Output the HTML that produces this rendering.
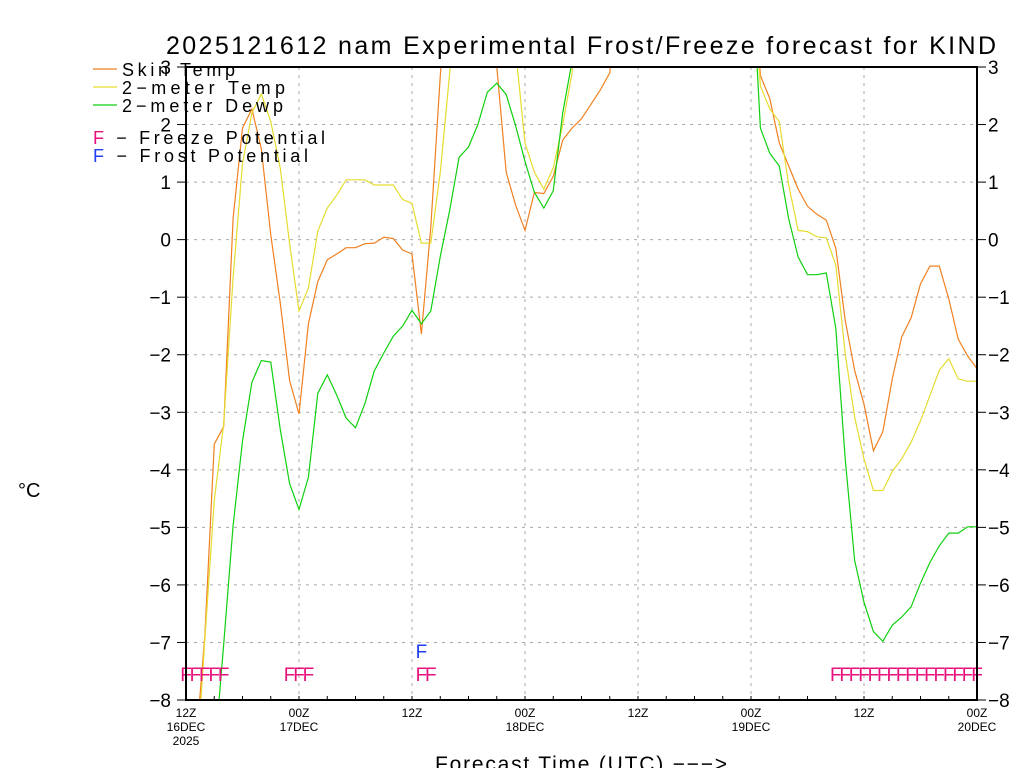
<!DOCTYPE html>
<html><head><meta charset="utf-8"><style>
html,body{margin:0;background:#fff;width:1024px;height:768px;overflow:hidden;}
svg{display:block;font-family:"Liberation Sans","DejaVu Sans",sans-serif;}
</style></head><body>
<svg id="chart" width="1024" height="768" viewBox="0 0 1024 768" overflow="hidden">
<defs><clipPath id="pc"><rect x="186" y="67" width="791" height="633"/></clipPath></defs>
<text x="166" y="54" font-size="25" textLength="830" lengthAdjust="spacing" fill="#000">2025121612 nam Experimental Frost/Freeze forecast for KIND</text>
<g id="grid"></g>
<g id="series" clip-path="url(#pc)"></g>
<g id="marks"></g>
<g id="axes"></g>
<g font-size="18">
<line x1="93" y1="69" x2="117" y2="69" stroke="#f08020" stroke-width="1.2"/>
<text x="122" y="76" textLength="113" lengthAdjust="spacing">Skin Temp</text>
<line x1="93" y1="87" x2="117" y2="87" stroke="#e6dc30" stroke-width="1.2"/>
<text x="122" y="94" textLength="163" lengthAdjust="spacing">2−meter Temp</text>
<line x1="93" y1="105" x2="117" y2="105" stroke="#10d010" stroke-width="1.2"/>
<text x="122" y="112" textLength="161" lengthAdjust="spacing">2−meter Dewp</text>
<text x="93" y="144" textLength="232" lengthAdjust="spacing"><tspan fill="#e8107c">F</tspan> −  Freeze Potential</text>
<text x="93" y="162" textLength="215" lengthAdjust="spacing"><tspan fill="#2040f0">F</tspan> −  Frost Potential</text>
</g>
<text x="18" y="497" font-size="20">°C</text>
<text x="435" y="771" font-size="21" textLength="292" lengthAdjust="spacing">Forecast Time (UTC) −−−&gt;</text>
</svg>
<script>
const hours = Array.from({length:85},(_,i)=>i);
const skinTemp = [-11,-8.9,-6.9,-3.55,-3.25,0.37,1.94,2.27,1.58,0.08,-1.09,-2.45,-3.03,-1.46,-0.73,-0.35,-0.25,-0.14,-0.14,-0.07,-0.06,0.04,0.02,-0.18,-0.25,-1.64,0.22,2.85,5,5,5,5,5,3.0,1.17,0.6,0.16,0.82,0.8,1.1,1.73,1.94,2.1,2.35,2.6,2.9,5,5,5,5,5,5,5,5,5,5,5,5,5,5,5,2.85,2.45,1.68,1.28,0.88,0.58,0.44,0.34,-0.15,-1.4,-2.27,-2.86,-3.67,-3.34,-2.42,-1.69,-1.36,-0.77,-0.46,-0.46,-1.03,-1.73,-2.02,-2.24];
const twoMTemp = [-12,-9.5,-6.96,-4.53,-3.2,-0.66,1.32,2.2,2.53,2.05,1.25,-0.07,-1.24,-0.84,0.15,0.55,0.77,1.04,1.04,1.04,0.95,0.95,0.95,0.7,0.63,-0.06,-0.06,1.17,2.9,5,5,5,5,5,5,3.3,1.68,1.17,0.88,1.25,2.0,2.9,5,5,5,5,5,5,5,5,5,5,5,5,5,5,5,5,5,5,5,2.67,2.27,2.05,0.95,0.16,0.14,0.05,0.03,-0.44,-1.98,-3.08,-3.81,-4.36,-4.36,-4.03,-3.81,-3.52,-3.15,-2.71,-2.27,-2.07,-2.42,-2.46,-2.46];
const dewPoint = [-14,-13,-11,-9.0,-7.03,-4.97,-3.5,-2.48,-2.1,-2.13,-3.29,-4.24,-4.69,-4.13,-2.67,-2.35,-2.7,-3.1,-3.27,-2.85,-2.28,-1.97,-1.68,-1.5,-1.23,-1.46,-1.24,-0.29,0.51,1.43,1.61,2.0,2.56,2.72,2.52,1.98,1.36,0.82,0.55,0.85,2.2,3.1,5,5,5,5,5,5,5,5,5,5,5,5,5,5,5,5,5,5,5,1.94,1.5,1.28,0.36,-0.3,-0.61,-0.61,-0.58,-1.54,-3.81,-5.57,-6.3,-6.81,-6.98,-6.7,-6.56,-6.38,-5.97,-5.61,-5.32,-5.1,-5.1,-4.99,-4.99];
const freezeHours = [0,1,2,3,4,11,12,13,25,26,69,70,71,72,73,74,75,76,77,78,79,80,81,82,83,84];
const frostHours = [25];
const yTicks = [-8,-7,-6,-5,-4,-3,-2,-1,0,1,2,3];
const xTickHours = [0,12,24,36,48,60,72,84];
const xTickLabels = [["12Z","16DEC","2025"],["00Z","17DEC"],["12Z"],["00Z","18DEC"],["12Z"],["00Z","19DEC"],["12Z"],["00Z","20DEC"]];

const X0=186,X1=977,Y0=700,Y1=67;
const xs = h => X0 + h*(X1-X0)/84;
const ys = v => Y0 - (v+8)*(Y0-Y1)/11;
const NS="http://www.w3.org/2000/svg";
function mk(tag,attrs,parent,text){const e=document.createElementNS(NS,tag);for(const k in attrs)e.setAttribute(k,attrs[k]);if(text!==undefined)e.textContent=text;parent.appendChild(e);return e;}
const grid=document.getElementById('grid'),series=document.getElementById('series'),axes=document.getElementById('axes'),marks=document.getElementById('marks');

yTicks.forEach(v=>{
  if(v>-8&&v<3){const g=mk('line',{x1:X0,x2:X1,y1:ys(v),y2:ys(v),stroke:'#aaa','stroke-dasharray':'3,5','stroke-width':1},grid);
  
  }
  const l=mk('text',{x:171,y:ys(v)+7,'font-size':19,'text-anchor':'end'},axes,v<0?'−'+(-v):String(v));
  
  
  mk('line',{x1:X0-9,x2:X0,y1:ys(v),y2:ys(v),stroke:'#000','stroke-width':1},axes);
  mk('line',{x1:X1,x2:X1+9,y1:ys(v),y2:ys(v),stroke:'#000','stroke-width':1},axes);
  const r=mk('text',{x:988,y:ys(v)+7,'font-size':19},axes,v<0?'−'+(-v):String(v));
  
  
});
xTickHours.forEach((h,i)=>{
  if(h>0&&h<84){const g=mk('line',{x1:xs(h),x2:xs(h),y1:Y1,y2:Y0,stroke:'#aaa','stroke-dasharray':'3,5','stroke-width':1},grid);
  
  }
  xTickLabels[i].forEach((s,j)=>{
    const t=mk('text',{x:xs(h),y:717+j*14,'font-size':12,'text-anchor':'middle'},axes,s);
    
    
  });
});
for(let h=0;h<=84;h+=3){mk('line',{x1:xs(h),x2:xs(h),y1:Y0,y2:Y0-4,stroke:'#000'},axes);}
const frame=mk('rect',{x:X0,y:Y1,width:X1-X0,height:Y0-Y1,fill:'none',stroke:'#000','stroke-width':2},axes);



function drawLine(arr,color,name){
  const pts=hours.map(h=>xs(h).toFixed(1)+','+ys(arr[h]).toFixed(1)).join(' ');
  const p=mk('polyline',{points:pts,fill:'none',stroke:color,'stroke-width':1.2},series);
  
  
}
drawLine(skinTemp,'#f08020','skin-temp-line');
drawLine(twoMTemp,'#e6dc30','2m-temp-line');
drawLine(dewPoint,'#10d010','2m-dewp-line');

freezeHours.forEach(h=>{
  const t=mk('text',{x:xs(h),y:681,'font-size':19,'text-anchor':'middle',fill:'#e8107c'},marks,'F');
  
  
});
frostHours.forEach(h=>{
  const t=mk('text',{x:xs(h),y:658,'font-size':19,'text-anchor':'middle',fill:'#2040f0'},marks,'F');
  
  
});
</script>
</body></html>
